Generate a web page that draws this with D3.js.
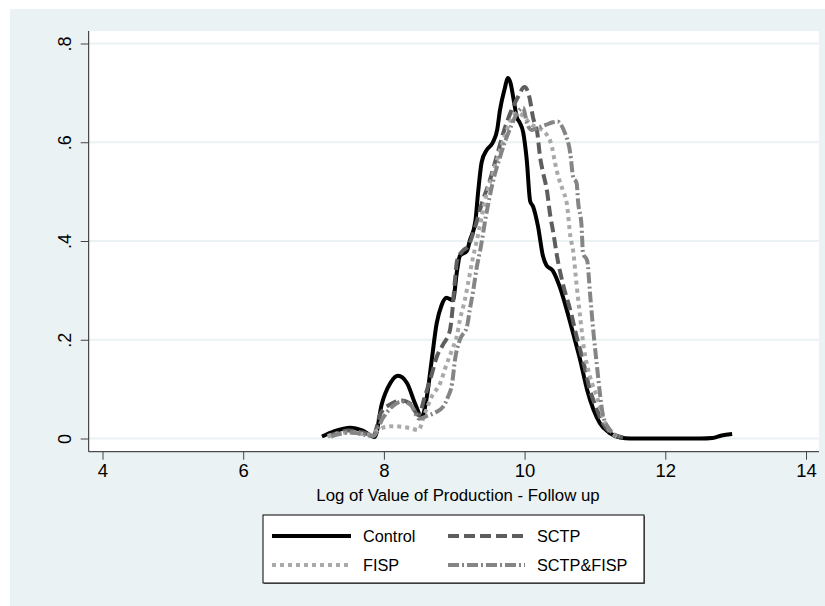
<!DOCTYPE html>
<html>
<head>
<meta charset="utf-8">
<script src="https://cdn.jsdelivr.net/npm/d3@7"></script>
<style>
  body { margin: 0; background: #fff; }
  text { font-family: "Liberation Sans", Arial, sans-serif; }
</style>
</head>
<body>
<div id="chart"></div>
<script>
// kernel density estimates: [log value, density]
const control = [[7.12,.004],[7.3,.015],[7.52,.022],[7.7,.016],[7.87,.003],[7.97,.07],[8.09,.112],[8.2,.127],
  [8.33,.112],[8.44,.072],[8.54,.044],[8.61,.084],[8.68,.159],[8.75,.233],[8.82,.27],[8.89,.285],[8.98,.28],
  [9.04,.34],[9.08,.37],[9.18,.38],[9.22,.40],[9.3,.44],[9.34,.50],[9.39,.56],[9.46,.584],[9.55,.60],[9.61,.625],
  [9.65,.665],[9.72,.71],[9.76,.73],[9.8,.72],[9.84,.69],[9.89,.65],[9.93,.64],[9.98,.62],[10.03,.565],[10.08,.48],
  [10.12,.47],[10.19,.43],[10.26,.37],[10.31,.351],[10.4,.34],[10.5,.307],[10.6,.26],[10.69,.213],[10.79,.159],
  [10.89,.098],[10.98,.058],[11.07,.031],[11.21,.011],[11.36,.002],[11.5,0],[12,0],[12.5,0],[12.67,.001],
  [12.8,.006],[12.95,.009]];
const sctp = [[7.2,.004],[7.35,.012],[7.5,.016],[7.7,.012],[7.85,.006],[7.95,.05],[8.1,.07],[8.25,.077],[8.38,.07],
  [8.49,.047],[8.58,.084],[8.68,.13],[8.75,.165],[8.84,.19],[8.94,.22],[8.97,.254],[8.99,.287],[9.01,.32],[9.04,.36],
  [9.12,.38],[9.2,.39],[9.3,.43],[9.4,.48],[9.5,.52],[9.6,.57],[9.7,.62],[9.8,.66],[9.9,.69],[10.0,.712],[10.07,.69],
  [10.12,.65],[10.18,.62],[10.22,.57],[10.26,.54],[10.32,.50],[10.36,.456],[10.41,.415],[10.46,.37],[10.55,.31],
  [10.65,.26],[10.74,.206],[10.84,.152],[10.93,.098],[11.03,.058],[11.1,.034],[11.22,.012],[11.4,.002]];
const fisp = [[7.2,.005],[7.35,.01],[7.5,.012],[7.65,.01],[7.8,.008],[7.95,.02],[8.13,.025],[8.37,.021],[8.49,.017],
  [8.58,.05],[8.68,.085],[8.8,.112],[8.89,.15],[8.97,.18],[9.04,.21],[9.08,.24],[9.15,.28],[9.2,.317],[9.25,.355],
  [9.35,.42],[9.45,.49],[9.55,.537],[9.62,.57],[9.69,.60],[9.79,.64],[9.9,.66],[10.0,.65],[10.1,.635],[10.18,.63],
  [10.29,.62],[10.39,.59],[10.43,.56],[10.48,.53],[10.55,.50],[10.6,.476],[10.65,.41],[10.69,.38],[10.74,.31],
  [10.79,.246],[10.84,.186],[10.93,.125],[11.03,.084],[11.11,.044],[11.2,.018],[11.35,.002]];
const sctpFisp = [[7.25,.004],[7.4,.01],[7.55,.012],[7.7,.008],[7.85,.005],[7.98,.04],[8.12,.065],[8.25,.075],
  [8.38,.068],[8.5,.04],[8.6,.045],[8.72,.052],[8.84,.064],[8.91,.084],[8.97,.112],[9.01,.159],[9.08,.2],[9.18,.226],
  [9.22,.26],[9.27,.30],[9.32,.347],[9.37,.382],[9.45,.45],[9.55,.52],[9.65,.57],[9.8,.63],[9.9,.66],[9.98,.67],
  [10.03,.64],[10.1,.625],[10.2,.63],[10.3,.635],[10.39,.64],[10.47,.642],[10.52,.635],[10.57,.62],[10.65,.577],
  [10.69,.53],[10.74,.517],[10.76,.48],[10.81,.43],[10.83,.375],[10.89,.36],[10.93,.294],[10.98,.213],[11.03,.145],
  [11.07,.092],[11.11,.05],[11.2,.02],[11.35,.003]];

const seriesNames = ["Control", "SCTP", "FISP", "SCTP&FISP"];
const xTicks = [4, 6, 8, 10, 12, 14];
const yTicks = [0, .2, .4, .6, .8];
const yTickLabels = ["0", ".2", ".4", ".6", ".8"];

const width = 825, height = 606;
const plot = {left: 88.7, right: 819, top: 31, bottom: 451.7};
const bg = "#eaf2f3";

// line looks, one per series
const styles = [
  {color: "#000000", dash: null},
  {color: "#5e5e5e", dash: "11,5"},
  {color: "#a9a9a9", dash: "4,4"},
  {color: "#858585", dash: "11,3,2,3"}
];

const svg = d3.select("#chart").append("svg")
  .attr("width", width)
  .attr("height", height);

svg.append("rect")
  .attr("x", 10).attr("y", 9)
  .attr("width", width - 10).attr("height", height - 9)
  .attr("fill", bg);

svg.append("rect")
  .attr("x", plot.left).attr("y", plot.top)
  .attr("width", plot.right - plot.left).attr("height", plot.bottom - plot.top)
  .attr("fill", "#fff");

const x_scale = d3.scaleLinear().domain([4, 14]).range([102.5, 806]);
const y_scale = d3.scaleLinear().domain([0, 0.8]).range([438.5, 43.5]);

// grid
svg.append("g")
  .selectAll("line")
  .data(yTicks)
  .join("line")
  .attr("x1", plot.left).attr("x2", plot.right)
  .attr("y1", d => y_scale(d)).attr("y2", d => y_scale(d))
  .attr("stroke", bg)
  .attr("stroke-width", 2);

// y axis
const yAxis = svg.append("g")
  .attr("transform", `translate(${plot.left},0)`)
  .call(d3.axisLeft(y_scale).tickValues(yTicks).tickSize(8).tickFormat((d, i) => yTickLabels[i]));
yAxis.select(".domain").attr("d", `M0,${plot.top}V${plot.bottom}`).attr("stroke", "#222");
yAxis.selectAll(".tick line").attr("stroke", "#444");
yAxis.selectAll(".tick text")
  .attr("x", null).attr("dy", null)
  .attr("text-anchor", "middle")
  .attr("dominant-baseline", "central")
  .attr("transform", "translate(-24,0) rotate(-90)")
  .style("font-size", "18px")
  .attr("fill", "#000");

// x axis
const xAxis = svg.append("g")
  .attr("transform", `translate(0,${plot.bottom})`)
  .call(d3.axisBottom(x_scale).tickValues(xTicks).tickSize(8).tickFormat(d3.format("d")));
xAxis.select(".domain").attr("d", `M${plot.left},0H${plot.right}`).attr("stroke", "#222");
xAxis.selectAll(".tick line").attr("stroke", "#444");
xAxis.selectAll(".tick text")
  .attr("y", 12)
  .attr("dy", "0.71em")
  .style("font-size", "18.5px")
  .attr("fill", "#000");
xAxis.attr("font-family", null);
yAxis.attr("font-family", null);

svg.append("text")
  .attr("x", 458)
  .attr("y", 501)
  .attr("text-anchor", "middle")
  .style("font-size", "16.8px")
  .text("Log of Value of Production - Follow up");

// density curves
const line = d3.line()
  .x(d => x_scale(d[0]))
  .y(d => y_scale(d[1]))
  .curve(d3.curveMonotoneX);

const allSeries = [control, sctp, fisp, sctpFisp];
svg.append("g")
  .selectAll("path")
  .data(allSeries)
  .join("path")
  .attr("d", line)
  .attr("fill", "none")
  .attr("stroke", (d, i) => styles[i].color)
  .attr("stroke-width", 4)
  .attr("stroke-dasharray", (d, i) => styles[i].dash)
  .attr("stroke-linejoin", "round");

// legend
const legend = svg.append("g");
legend.append("rect")
  .attr("x", 264).attr("y", 516).attr("width", 381).attr("height", 68)
  .attr("fill", "#777");
legend.append("rect")
  .attr("x", 263).attr("y", 515).attr("width", 381).attr("height", 68)
  .attr("fill", "#fff").attr("stroke", "#000").attr("stroke-width", 1);

const legendPos = [
  {x: 272, y: 536}, {x: 448, y: 536},
  {x: 272, y: 565}, {x: 448, y: 565}
];
const items = legend.selectAll("g.item")
  .data(seriesNames)
  .join("g")
  .attr("class", "item")
  .attr("transform", (d, i) => `translate(${legendPos[i].x},${legendPos[i].y})`);
items.append("line")
  .attr("x1", 0).attr("x2", (d, i) => i % 2 ? 77 : 79)
  .attr("y1", 0).attr("y2", 0)
  .attr("stroke", (d, i) => styles[i].color)
  .attr("stroke-width", 4)
  .attr("stroke-dasharray", (d, i) => styles[i].dash);
items.append("text")
  .attr("x", (d, i) => i % 2 ? 89 : 91)
  .attr("y", 0)
  .attr("dy", "0.36em")
  .style("font-size", "16.3px")
  .text(d => d);
</script>
</body>
</html>
